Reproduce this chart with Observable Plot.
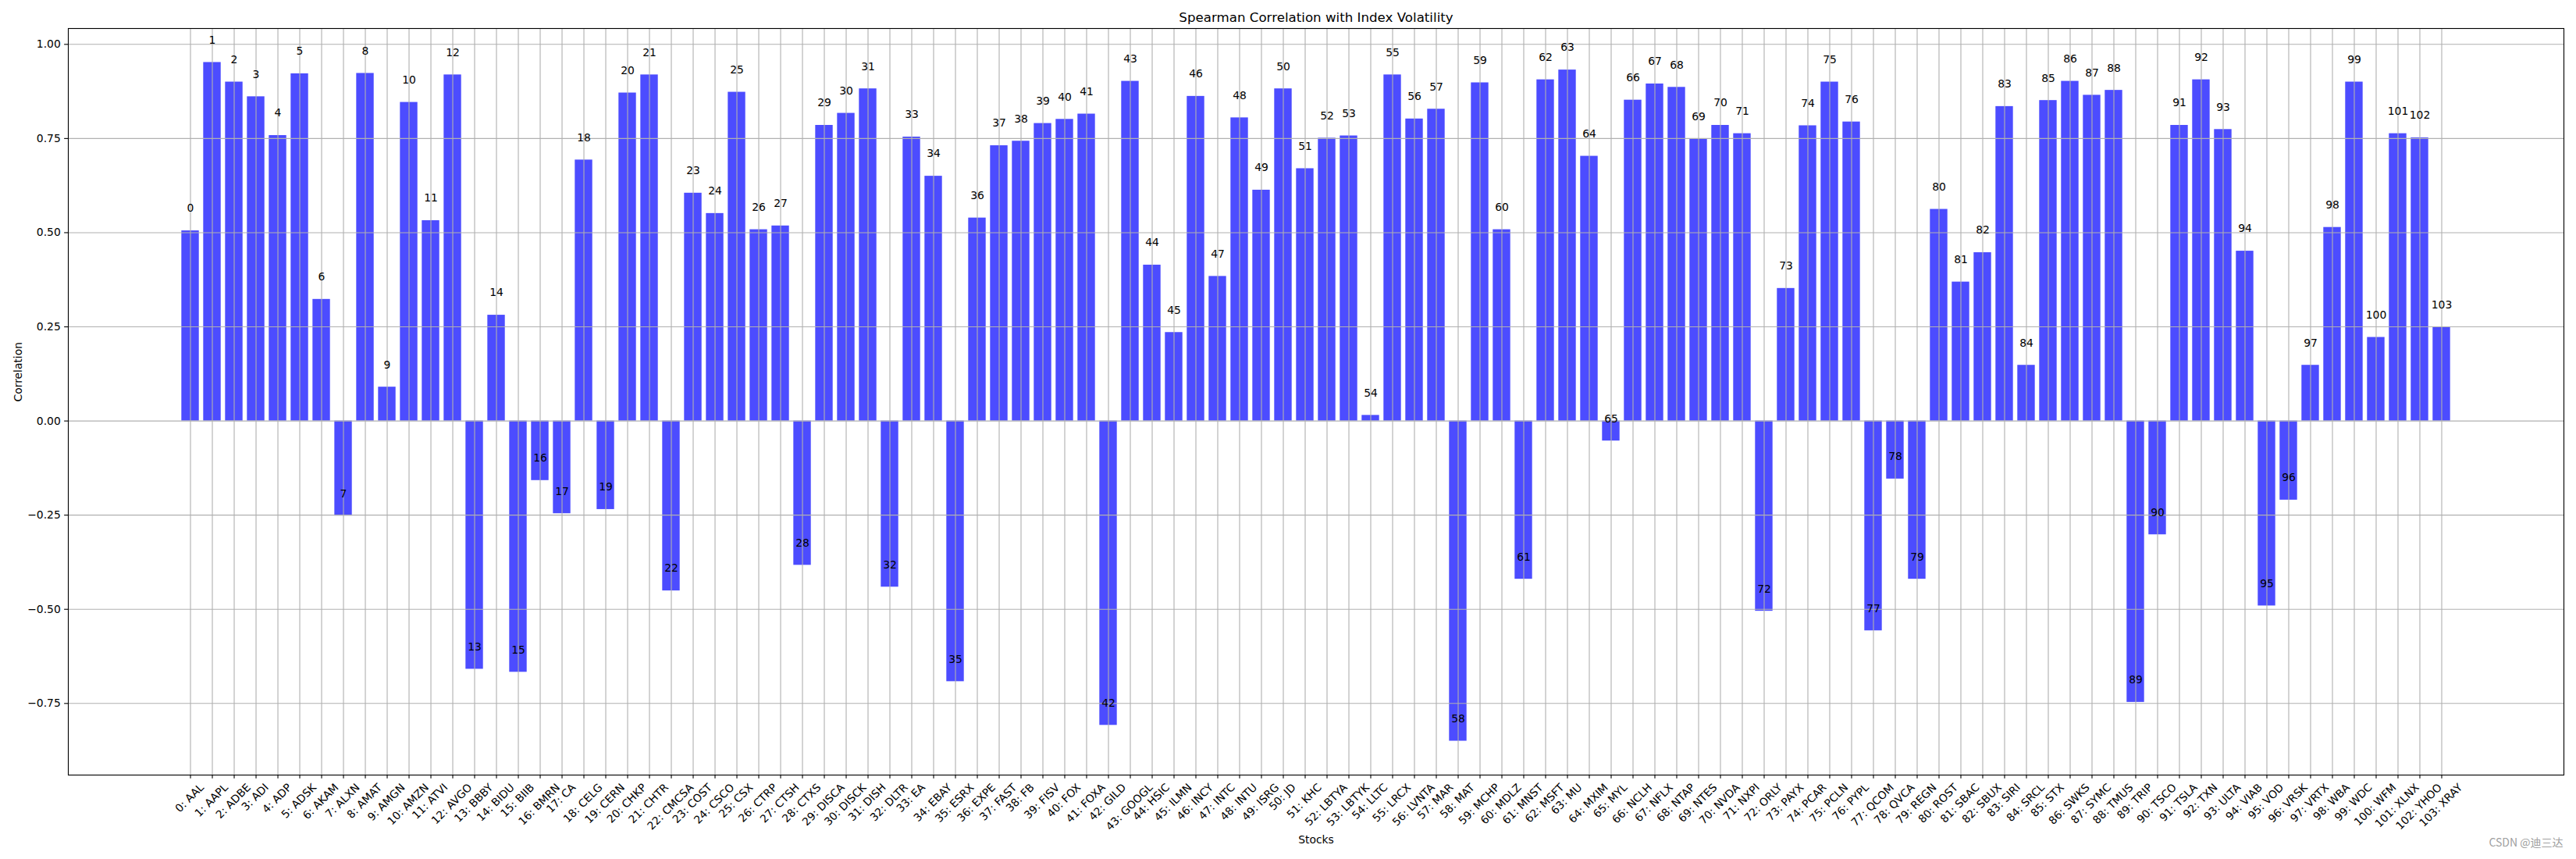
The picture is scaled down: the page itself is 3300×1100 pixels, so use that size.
<!DOCTYPE html>
<html><head><meta charset="utf-8">
<script src="https://cdn.jsdelivr.net/npm/d3@7"></script>
<script src="https://cdn.jsdelivr.net/npm/@observablehq/plot@0.6"></script>
<style>body{margin:0;background:#fff;}</style>
</head><body><div id="chart"></div>
<script>
const stocks = ["AAL","AAPL","ADBE","ADI","ADP","ADSK","AKAM","ALXN","AMAT","AMGN","AMZN","ATVI","AVGO","BBBY","BIDU","BIIB","BMRN","CA","CELG","CERN","CHKP","CHTR","CMCSA","COST","CSCO","CSX","CTRP","CTSH","CTXS","DISCA","DISCK","DISH","DLTR","EA","EBAY","ESRX","EXPE","FAST","FB","FISV","FOX","FOXA","GILD","GOOGL","HSIC","ILMN","INCY","INTC","INTU","ISRG","JD","KHC","LBTYA","LBTYK","LLTC","LRCX","LVNTA","MAR","MAT","MCHP","MDLZ","MNST","MSFT","MU","MXIM","MYL","NCLH","NFLX","NTAP","NTES","NVDA","NXPI","ORLY","PAYX","PCAR","PCLN","PYPL","QCOM","QVCA","REGN","ROST","SBAC","SBUX","SIRI","SRCL","STX","SWKS","SYMC","TMUS","TRIP","TSCO","TSLA","TXN","ULTA","VIAB","VOD","VRSK","VRTX","WBA","WDC","WFM","XLNX","YHOO","XRAY"];
const correlations = [0.505,0.952,0.900,0.861,0.758,0.922,0.323,-0.252,0.923,0.090,0.846,0.532,0.919,-0.659,0.281,-0.667,-0.158,-0.246,0.693,-0.235,0.871,0.919,-0.451,0.605,0.551,0.873,0.508,0.518,-0.383,0.785,0.817,0.882,-0.441,0.754,0.650,-0.692,0.539,0.731,0.743,0.790,0.801,0.815,-0.808,0.902,0.414,0.235,0.862,0.384,0.805,0.613,0.882,0.670,0.751,0.757,0.015,0.919,0.802,0.828,-0.850,0.898,0.508,-0.420,0.906,0.932,0.703,-0.053,0.852,0.895,0.886,0.748,0.785,0.763,-0.505,0.352,0.784,0.900,0.794,-0.557,-0.154,-0.420,0.562,0.369,0.447,0.835,0.148,0.851,0.902,0.865,0.878,-0.747,-0.302,0.785,0.906,0.774,0.451,-0.491,-0.210,0.148,0.514,0.900,0.222,0.763,0.752,0.248];
const yTicks = [-0.75,-0.5,-0.25,0,0.25,0.5,0.75,1.0];
const title = "Spearman Correlation with Index Volatility";
const xLabel = "Stocks";
const yLabel = "Correlation";
const watermark = "CSDN @迪三达";

const data = stocks.map((s, i) => ({i, stock: s, value: correlations[i]}));
const n = stocks.length;
const xlo = -0.4, xhi = n - 1 + 0.4, xm = 0.05 * (xhi - xlo);
const vmin = Math.min(0, d3.min(correlations)), vmax = Math.max(0, d3.max(correlations));
const ym = 0.05 * (vmax - vmin);
const FS = 13.89;
const LW = 1.11;

const chart = Plot.plot({
  width: 3300, height: 1100,
  marginLeft: 87, marginRight: 16, marginTop: 36, marginBottom: 108,
  style: {fontFamily: "'DejaVu Sans', sans-serif", fontSize: FS + "px", background: "white", color: "black"},
  x: {type: "linear", domain: [xlo - xm, xhi + xm]},
  y: {domain: [vmin - ym, vmax + ym]},
  marks: [
    Plot.rect(data, {x1: d => d.i - 0.4, x2: d => d.i + 0.4, y1: () => 0, y2: "value", fill: "blue", fillOpacity: 0.7}),
    Plot.gridX(d3.range(n), {stroke: "#b0b0b0", strokeOpacity: 1, strokeWidth: LW}),
    Plot.gridY(yTicks, {stroke: "#b0b0b0", strokeOpacity: 1, strokeWidth: LW}),
    Plot.text(data, {x: "i", y: d => d.value + 0.05, text: d => String(d.i), lineAnchor: "bottom", fill: "black", fontSize: FS}),
    Plot.axisX(d3.range(n), {tickFormat: i => `${i}: ${stocks[i]}`, tickSize: 4.86, tickPadding: 4.86, fontSize: FS, strokeWidth: LW, label: null}),
    Plot.axisY(yTicks, {tickFormat: d3.format(".2f"), tickSize: 4.86, tickPadding: 4.86, fontSize: FS, strokeWidth: LW, label: null}),
    Plot.frame({stroke: "black", strokeWidth: LW}),
    Plot.text([title], {frameAnchor: "top", dy: -8.3, lineAnchor: "bottom", fontSize: 16.67, fill: "black"}),
    Plot.text([yLabel], {frameAnchor: "left", dx: -64, rotate: -90, fontSize: FS, fill: "black"}),
    Plot.text([xLabel], {frameAnchor: "bottom", dy: 87, fontSize: FS, fill: "black"}),
    Plot.text([watermark], {frameAnchor: "bottom-right", dx: -1, dy: 91, textAnchor: "end", fill: "#a0a0a0", fontSize: 14, fontFamily: "'Noto Sans CJK SC', sans-serif"})
  ]
});
document.getElementById("chart").append(chart);

// matplotlib-style rotated tick labels (rotation 45, ha center, va top)
const xs = chart.scale("x");
const yBottom = chart.scale("y").range[0];
const yTop = yBottom + 4.86 + 4.86;
const H = FS * 1.0;
d3.select(chart).selectAll('g[aria-label="x-axis tick label"]').attr("transform", null);
d3.select(chart).selectAll('g[aria-label="x-axis tick label"] text').each(function() {
  const t = this.textContent;
  const idx = +t.split(":")[0];
  const L = this.getComputedTextLength();
  const cx = xs.apply(idx);
  const cy = yTop + (L + H) / (2 * Math.SQRT2);
  this.removeAttribute("x"); this.removeAttribute("y");
  this.setAttribute("transform", `translate(${cx},${cy}) rotate(-45)`);
  this.setAttribute("text-anchor", "middle");
  this.setAttribute("dy", "0.26em");
});
</script>
</body></html>
